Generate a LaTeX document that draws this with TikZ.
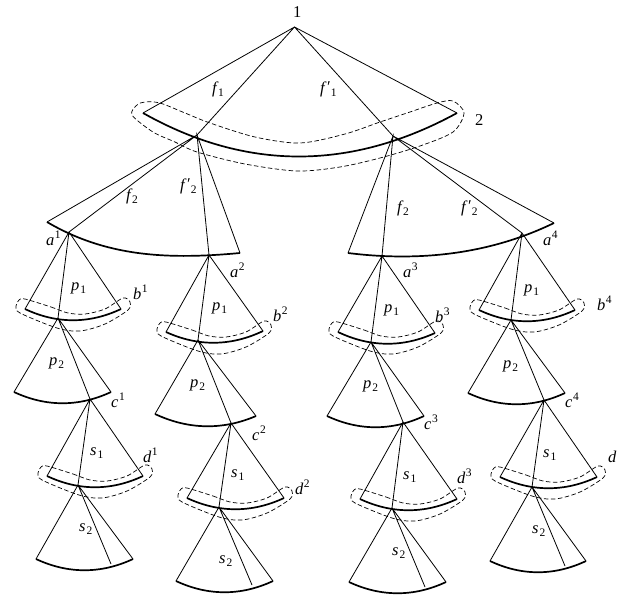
\documentclass[tikz,border=0pt]{standalone}
\usepackage{fontspec}
\setmainfont{Liberation Serif}
\usepackage{tikz}
\usetikzlibrary{calc}

\tikzset{
  fanline/.style={line width=0.8pt, black},
  rimline/.style={line width=1.7pt, black},
  looppath/.style={line width=0.7pt, dash pattern=on 4.5pt off 2.5pt, black},
  lab/.style={inner sep=0pt, anchor=base west, font=\fontsize{16.5}{19}\selectfont}
}
\newcommand{\subtxt}[1]{\raisebox{-3.5pt}{\fontsize{11.5}{12}\selectfont #1}}
\newcommand{\suptxt}[1]{\raisebox{6.5pt}{\fontsize{11.5}{12}\selectfont #1}}
\newcommand{\symsub}[2]{\textit{#1}\kern1pt\subtxt{#2}}
\newcommand{\fsub}[1]{\textit{f}\kern-0.5pt\subtxt{#1}}
\newcommand{\symsup}[2]{\textit{#1}\kern0.5pt\suptxt{#2}}
\newcommand{\fprime}[1]{\textit{f}\kern0.5pt\raisebox{1pt}{′}\subtxt{#1}}
\newcommand{\drawfan}[6]{%
  \coordinate (#1l) at (#3);
  \coordinate (#1m) at (#4);
  \coordinate (#1r) at (#5);
  \draw[fanline] (#1l) -- (#2) -- (#1r) (#2) -- (#1m);
  \draw[rimline] (#1l) .. controls ($(#1l)!.33!(#1r)+(0,#6)$) and ($(#1l)!.67!(#1r)+(0,#6)$) .. (#1r);
}
\newcommand{\drawloop}[1]{%
  \draw[looppath, shift={(#1)}] plot[smooth cycle] coordinates {(0,-10) (26,-2) (43,4) (60,5) (80,0) (98,-11) (105,-7) (103,1) (80,15) (55,22) (32,19) (-5,4) (-9,-3) (-6,-9)};
}

\begin{document}
\begin{tikzpicture}[x=1pt,y=-1pt]
  \useasboundingbox (0,0) rectangle (618,595);

  % top level
  \coordinate (root) at (294.5,27);
  \coordinate (topl) at (143,113);
  \coordinate (topa) at (197,135);
  \coordinate (topb) at (393,136);
  \coordinate (topr) at (457,113);
  \draw[fanline] (topl) -- (root) -- (topr) (topa) -- (root) -- (topb);
  \draw[rimline] (topl) .. controls (246,171) and (351,171) .. (topr);
  \draw[looppath] plot[smooth cycle] coordinates {(145,102) (160,103) (185,113) (210,123) (255,137) (300,143) (345,134) (380,122) (410,112) (437,103) (453,101) (464,113) (453,132) (420,146) (380,158) (340,167) (297,171) (245,164) (197,152) (175,142) (153,132) (132,115) (137,105)};

  % second level
  \coordinate (al) at (47,222);
  \coordinate (a1) at (69,232);
  \coordinate (a2) at (209,255);
  \coordinate (am) at (240,253);
  \coordinate (an) at (348,253);
  \coordinate (a3) at (382,256);
  \coordinate (a4) at (522,233);
  \coordinate (ar) at (554,223);
  \draw[fanline] (al) -- (topa) -- (a1) (a2) -- (topa) -- (am);
  \draw[fanline] (an) -- (topb) -- (a3) (a4) -- (topb) -- (ar);
  \draw[rimline] (al) .. controls (105,256) and (165,260) .. (am);
  \draw[rimline] (an) .. controls (420,262) and (490,254) .. (ar);

  % column 1
  \drawfan{pa}{a1}{25,309}{58,318}{121,309}{15}
  \drawloop{pal}
  \drawfan{qa}{pam}{14,392}{90,399}{111,392}{15}
  \drawfan{sa}{qam}{47,476}{78,485}{143,476}{15}
  \drawloop{sal}
  \drawfan{ta}{sam}{36,559}{111,564}{133,559}{15}

  % column 2
  \drawfan{pb}{a2}{166,332}{198,340}{263,331}{15}
  \drawloop{pbl}
  \drawfan{qb}{pbm}{155,414}{231,423}{256,416}{15}
  \drawfan{sb}{qbm}{187,498}{219,507}{284,498}{15}
  \drawloop{sbl}
  \drawfan{tb}{sbm}{176,581}{252,585}{273,581}{15}

  % column 3
  \drawfan{pc}{a3}{338,332}{371,342}{435,333}{15}
  \drawloop{pcl}
  \drawfan{qc}{pcm}{327,416}{403,422}{424,416}{15}
  \drawfan{sc}{qcm}{360,499}{392,508}{457,499}{15}
  \drawloop{scl}
  \drawfan{tc}{scm}{349,582}{425,587}{446,582}{15}

  % column 4
  \drawfan{pd}{a4}{479,310}{511,320}{575,310}{15}
  \drawloop{pdl}
  \drawfan{qd}{pdm}{468,393}{544,400}{565,393}{15}
  \drawfan{sd}{qdm}{500,477}{532,487}{597,477}{15}
  \drawloop{sdl}
  \drawfan{td}{sdm}{490,561}{565,566}{586,561}{15}

  % labels
  \node[lab] (lab1) at (293,17) {1};
  \node[lab] (lab2) at (475,125) {2};
  \node[lab] (labf1) at (212,93) {\fsub{1}};
  \node[lab] (labg1) at (320,93) {\fprime{1}};
  \node[lab] (labf2) at (126,200) {\fsub{2}};
  \node[lab] (labg2) at (180,190) {\fprime{2}};
  \node[lab] (labf3) at (397,212) {\fsub{2}};
  \node[lab] (labg3) at (461,212) {\fprime{2}};

  \node[lab] (laba1) at (46,245) {\symsup{a}{1}};
  \node[lab] (labb1) at (133,299) {\symsup{b}{1}};
  \node[lab] (labc1) at (111,407) {\symsup{c}{1}};
  \node[lab] (labd1) at (143,462) {\symsup{d}{1}};
  \node[lab] (labpa) at (71,290) {\symsub{p}{1}};
  \node[lab] (labqa) at (49,365) {\symsub{p}{2}};
  \node[lab] (labsa) at (90,455) {\symsub{s}{1}};
  \node[lab] (labta) at (79,531) {\symsub{s}{2}};

  \node[lab] (laba2) at (230,277) {\symsup{a}{2}};
  \node[lab] (labb2) at (273,321) {\symsup{b}{2}};
  \node[lab] (labc2) at (252,440) {\symsup{c}{2}};
  \node[lab] (labd2) at (295,494) {\symsup{d}{2}};
  \node[lab] (labpb) at (212,310) {\symsub{p}{1}};
  \node[lab] (labqb) at (190,387) {\symsub{p}{2}};
  \node[lab] (labsb) at (231,477) {\symsub{s}{1}};
  \node[lab] (labtb) at (219,563) {\symsub{s}{2}};

  \node[lab] (laba3) at (403,277) {\symsup{a}{3}};
  \node[lab] (labb3) at (435,322) {\symsup{b}{3}};
  \node[lab] (labc3) at (424,429) {\symsup{c}{3}};
  \node[lab] (labd3) at (457,483) {\symsup{d}{3}};
  \node[lab] (labpc) at (384,312) {\symsub{p}{1}};
  \node[lab] (labqc) at (363,388) {\symsub{p}{2}};
  \node[lab] (labsc) at (403,479) {\symsub{s}{1}};
  \node[lab] (labtc) at (392,555) {\symsub{s}{2}};

  \node[lab] (laba4) at (543,245) {\symsup{a}{4}};
  \node[lab] (labb4) at (597,310) {\symsup{b}{4}};
  \node[lab] (labc4) at (565,407) {\symsup{c}{4}};
  \node[lab] (labd4) at (608,462) {\textit{d}};
  \node[lab] (labpd) at (524,292) {\symsub{p}{1}};
  \node[lab] (labqd) at (503,368) {\symsub{p}{2}};
  \node[lab] (labsd) at (543,457) {\symsub{s}{1}};
  \node[lab] (labtd) at (532,533) {\symsub{s}{2}};
\end{tikzpicture}
\end{document}
